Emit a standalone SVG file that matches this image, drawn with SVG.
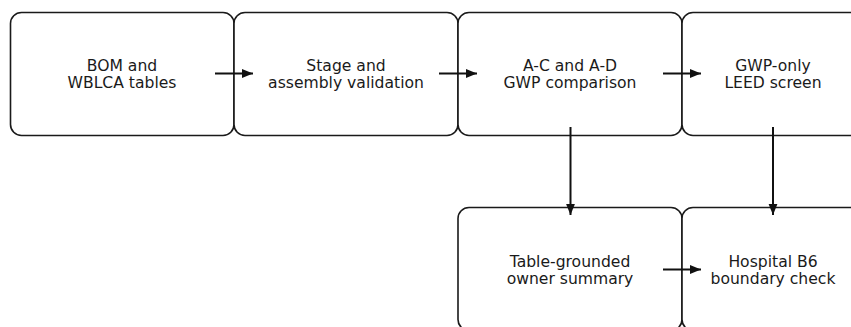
<svg xmlns="http://www.w3.org/2000/svg" width="851" height="327" viewBox="0 0 851 327">
<defs>
<style>
.box{fill:#fff;stroke:#1a1a1a;stroke-width:1.6}
.lbl{font-family:"DejaVu Sans",sans-serif;font-size:15.6px;fill:#1a1a1a;text-anchor:middle}
.edge{stroke:#111;stroke-width:2;fill:none;marker-end:url(#ah)}
</style>
<marker id="ah" viewBox="0 0 10 10" refX="10" refY="5" markerWidth="5.5" markerHeight="5.5" markerUnits="strokeWidth" orient="auto">
<path d="M0,1 L10,5 L0,9 Z" fill="#111"/>
</marker>
</defs>
<rect width="851" height="327" fill="#fff"/>
<g id="n1"><rect class="box" x="10.5" y="12.5" width="223.5" height="123" rx="11"/><text class="lbl" x="122" y="70.5">BOM and</text><text class="lbl" x="122" y="87.5">WBLCA tables</text></g>
<g id="n2"><rect class="box" x="234" y="12.5" width="224" height="123" rx="11"/><text class="lbl" x="346" y="70.5">Stage and</text><text class="lbl" x="346" y="87.5">assembly validation</text></g>
<g id="n3"><rect class="box" x="458" y="12.5" width="224" height="123" rx="11"/><text class="lbl" x="570" y="70.5">A-C and A-D</text><text class="lbl" x="570" y="87.5">GWP comparison</text></g>
<g id="n4"><rect class="box" x="682" y="12.5" width="224" height="123" rx="11"/><text class="lbl" x="773" y="70.5">GWP-only</text><text class="lbl" x="773" y="87.5">LEED screen</text></g>
<g id="n5"><rect class="box" x="458" y="207.5" width="224" height="123" rx="11"/><text class="lbl" x="570" y="266.5">Table-grounded</text><text class="lbl" x="570" y="283.5">owner summary</text></g>
<g id="n6"><rect class="box" x="682" y="207.5" width="224" height="123" rx="11"/><text class="lbl" x="773" y="266.5">Hospital B6</text><text class="lbl" x="773" y="283.5">boundary check</text></g>
<g id="edges">
<line class="edge" x1="215" y1="73.5" x2="253" y2="73.5"/>
<line class="edge" x1="439" y1="73.5" x2="477" y2="73.5"/>
<line class="edge" x1="663" y1="73.5" x2="701" y2="73.5"/>
<line class="edge" x1="570.5" y1="127" x2="570.5" y2="215"/>
<line class="edge" x1="773" y1="127" x2="773" y2="215"/>
<line class="edge" x1="663" y1="269.5" x2="701" y2="269.5"/>
</g>
</svg>
